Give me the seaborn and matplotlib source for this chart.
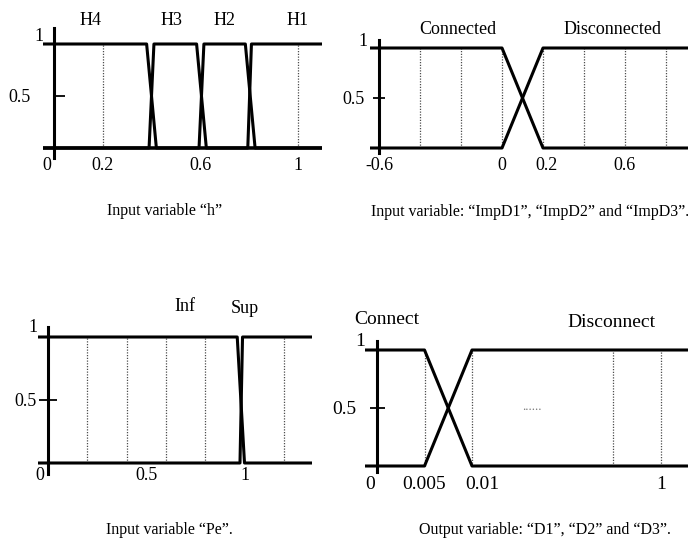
import numpy as np
import pandas as pd
import matplotlib
matplotlib.use("Agg")
import matplotlib.pyplot as plt
import seaborn as sns
from matplotlib.transforms import ScaledTranslation

# ---------------- data ----------------
# Panel 1: input variable "h"
h_names = ["H4", "H3", "H2", "H1"]
h_x = [[-0.045, 0.38, 0.42, 1.10],
       [-0.045, 0.39, 0.41, 0.585, 0.625, 1.10],
       [-0.045, 0.595, 0.615, 0.785, 0.825, 1.10],
       [-0.045, 0.795, 0.81, 1.10]]
h_y = [[1, 1, 0, 0],
       [0, 0, 1, 1, 0, 0],
       [0, 0, 1, 1, 0, 0],
       [0, 0, 1, 1]]
h_ticks = [0, 0.2, 0.6, 1]
h_ticklabels = ["0", "0.2", "0.6", "1"]
h_grid = [0.2, 1.0]

# Panel 2: input variables ImpD1..3
imp_names = ["Connected", "Disconnected"]
imp_x = [[-0.645, 0.0, 0.2, 0.91],
         [-0.645, 0.0, 0.2, 0.91]]
imp_y = [[1, 1, 0, 0],
         [0, 0, 1, 1]]
imp_ticks = [-0.6, 0, 0.2, 0.6]
imp_ticklabels = ["-0.6", "0", "0.2", "0.6"]
imp_grid = [-0.4, -0.2, 0.0, 0.2, 0.4, 0.6, 0.8]

# Panel 3: input variable Pe
pe_names = ["Inf", "Sup"]
pe_x = [[-0.05, 0.963, 1.0, 1.345],
        [-0.05, 0.977, 0.99, 1.345]]
pe_y = [[1, 1, 0, 0],
        [0, 0, 1, 1]]
pe_ticks = [0, 0.5, 1]
pe_ticklabels = ["0", "0.5", "1"]
pe_grid = [0.2, 0.4, 0.6, 0.8, 1.2]

# Panel 4: output variables D1..3
d_names = ["Connect", "Disconnect"]
d_x = [[-0.00126, 0.005, 0.01, 1.14],
       [-0.00126, 0.005, 0.01, 1.14]]
d_y = [[1, 1, 0, 0],
       [0, 0, 1, 1]]
d_ticks = [0, 0.005, 0.01, 1]
d_ticklabels = ["0", "0.005", "0.01", "1"]
d_grid = [0.005, 0.01, 0.75, 1.0]

captions = ["Input variable \u201ch\u201d",
            "Input variable: \u201cImpD1\u201d, \u201cImpD2\u201d and \u201cImpD3\u201d.",
            "Input variable \u201cPe\u201d.",
            "Output variable: \u201cD1\u201d, \u201cD2\u201d and \u201cD3\u201d."]

# ---------------- style ----------------
sns.set_style("white")
plt.rcParams["font.family"] = ["Liberation Serif", "DejaVu Serif"]
plt.rcParams["text.color"] = "black"

W, H = 688, 548
fig = plt.figure(figsize=(W / 100, H / 100), dpi=100)
LW = 2.2


def make_axes(xlim, ylim, px_of_x, y0px, sy):
    left = px_of_x(xlim[0])
    right = px_of_x(xlim[1])
    bottom = y0px - ylim[0] * sy
    top = y0px - ylim[1] * sy
    return fig.add_axes([left / W, 1 - bottom / H, (right - left) / W, (bottom - top) / H])


def draw_panel(ax, names, xs, ys, grid, ticks, ticklabels, xlim, ylim,
               spine_x, spine_bounds, fs, ytick_dir, ytick_len, ytick_pad,
               xpad, one_offset, label_shift):
    rows = []
    for n, xx, yy in zip(names, xs, ys):
        for i, (a, b) in enumerate(zip(xx, yy)):
            rows.append({"mf": n, "x": a, "y": b, "order": i})
    df = pd.DataFrame(rows)
    ax.vlines(grid, 0, 1, colors="0.3", linestyles=(0, (1, 1.2)), lw=0.9, zorder=1)
    sns.lineplot(data=df, x="x", y="y", units="mf", estimator=None, sort=False,
                 color="black", lw=LW, legend=False, ax=ax, zorder=3)
    ax.set_xlim(*xlim)
    ax.set_ylim(*ylim)
    ax.set_xlabel("")
    ax.set_ylabel("")
    for s in ["top", "right"]:
        ax.spines[s].set_visible(False)
    ax.spines["bottom"].set_position(("data", 0))
    ax.spines["bottom"].set_visible(False)
    ax.spines["left"].set_position(("data", spine_x))
    ax.spines["left"].set_bounds(*spine_bounds)
    ax.spines["left"].set_linewidth(LW)
    ax.spines["left"].set_color("black")
    ax.spines["left"].set_zorder(4)
    ax.set_facecolor("none")
    ax.set_xticks(ticks)
    ax.set_xticklabels(ticklabels)
    ax.set_yticks([0.5])
    ax.set_yticklabels(["0.5"])
    ax.tick_params(axis="x", bottom=True, length=0, pad=xpad, labelsize=fs, colors="black")
    ax.tick_params(axis="y", left=True, direction=ytick_dir, length=ytick_len, width=1.3,
                   pad=ytick_pad, labelsize=fs, colors="black")
    ax.annotate("1", xy=(spine_x, 1), xycoords="data", xytext=one_offset,
                textcoords="offset pixels", ha="center", va="center", fontsize=fs)
    for idx, dx in label_shift.items():
        lbl = ax.xaxis.get_major_ticks()[idx].label1
        lbl.set_transform(lbl.get_transform() + ScaledTranslation(dx / 100, 0, fig.dpi_scale_trans))
    ax.grid(False)


# Panel 1
x1 = lambda v: 54 + 243.75 * v
ax1 = make_axes((-0.045, 1.10), (-0.15, 1.3), x1, 148, 104)
draw_panel(ax1, h_names, h_x, h_y, h_grid, h_ticks, h_ticklabels,
           (-0.045, 1.10), (-0.15, 1.3), 0, (-0.096, 1.154), 13,
           "in", 8, 16.5, 6.5, (-15, 7), {0: -7})
for name, xp in zip(h_names, [0.148, 0.484, 0.70, 1.0]):
    ax1.text(xp, 1.23, name, ha="center", va="center", fontsize=13)

# Panel 2
x2 = lambda v: 502 + 205 * v
ax2 = make_axes((-0.645, 0.91), (-0.15, 1.3), x2, 148, 100)
draw_panel(ax2, imp_names, imp_x, imp_y, imp_grid, imp_ticks, imp_ticklabels,
           (-0.645, 0.91), (-0.15, 1.3), -0.6, (-0.05, 1.08), 13,
           "inout", 8.6, 5.8, 6.5, (-16, 6), {2: 4})
for name, xp in zip(imp_names, [-0.215, 0.54]):
    ax2.text(xp, 1.19, name, ha="center", va="center", fontsize=13)

# Panel 3
x3 = lambda v: 48 + 196.5 * v
ax3 = make_axes((-0.05, 1.345), (-0.15, 1.35), x3, 463, 126)
draw_panel(ax3, pe_names, pe_x, pe_y, pe_grid, pe_ticks, pe_ticklabels,
           (-0.05, 1.345), (-0.15, 1.35), 0, (-0.087, 1.08), 13,
           "inout", 13, 2, 3, (-15, 9), {0: -8})
for name, xp, yp in zip(pe_names, [0.697, 1.0], [1.24, 1.23]):
    ax3.text(xp, yp, name, ha="center", va="center", fontsize=13)


# Panel 4 (broken scale: 0..0.01 stretched, 0.01..1 compressed)
def fwd(v):
    v = np.asarray(v, dtype=float)
    return np.where(v <= 0.01, v * 9500.0, 95.0 + (v - 0.01) * (189.0 / 0.99))


def inv(u):
    u = np.asarray(u, dtype=float)
    return np.where(u <= 95.0, u / 9500.0, 0.01 + (u - 95.0) * (0.99 / 189.0))


x4 = lambda v: 377 + float(fwd(v))
ax4 = make_axes((-0.00126, 1.14), (-0.15, 1.35), x4, 466, 116)
ax4.set_xscale("function", functions=(fwd, inv))
draw_panel(ax4, d_names, d_x, d_y, d_grid, d_ticks, d_ticklabels,
           (-0.00126, 1.14), (-0.15, 1.35), 0, (-0.05, 1.078), 14,
           "inout", 10.8, 9.4, 7, (-17, 8), {0: -7, 2: 10})
for name, xp, yp in zip(d_names, [0.00105, 0.743], [1.26, 1.24]):
    ax4.text(xp, yp, name, ha="center", va="center", fontsize=14)
ax4.text(0.324, 0.51, "......", ha="center", va="center", fontsize=9, color="0.45")

# Captions
for txt, (cx, cy) in zip(captions, [(165, 211), (530, 212), (169, 530), (545, 530)]):
    fig.text(cx / W, 1 - cy / H, txt, ha="center", va="center", fontsize=11.5)

fig.savefig("out.png", dpi=100, facecolor="white")
